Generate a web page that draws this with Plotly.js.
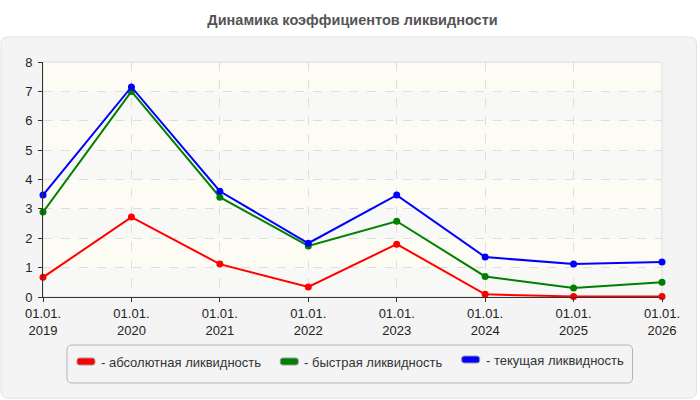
<!DOCTYPE html>
<html>
<head>
<meta charset="utf-8">
<script src="https://cdn.plot.ly/plotly-3.0.1.min.js"></script>
<style>html,body{margin:0;padding:0;background:#fff;}#chart{width:700px;height:400px;}</style>
</head>
<body>
<div id="chart"></div>
<script>
// ---- data ----
var categories = ['01.01.2019','01.01.2020','01.01.2021','01.01.2022','01.01.2023','01.01.2024','01.01.2025','01.01.2026'];
var tickLabels = ['01.01.<br>2019','01.01.<br>2020','01.01.<br>2021','01.01.<br>2022','01.01.<br>2023','01.01.<br>2024','01.01.<br>2025','01.01.<br>2026'];
var absoluteLiquidity = [0.67, 2.72, 1.12, 0.34, 1.80, 0.09, 0.02, 0.02];
var quickLiquidity    = [2.89, 7.00, 3.40, 1.74, 2.58, 0.70, 0.31, 0.50];
var currentLiquidity  = [3.47, 7.15, 3.60, 1.83, 3.47, 1.36, 1.12, 1.19];
var seriesNames = ['- абсолютная ликвидность', '- быстрая ликвидность', '- текущая ликвидность'];
var seriesColors = ['#ff0000', '#008000', '#0000ff'];
var chartTitle = 'Динамика коэффициентов ликвидности';

// ---- layout geometry ----
var W = 700, H = 400;
var M = {l: 43, r: 37.5, t: 62, b: 103};
var pw = W - M.l - M.r, ph = H - M.t - M.b;
function px2x(px){ return (px - M.l) / pw; }
function py2y(py){ return (H - M.b - py) / ph; }
function roundRect(x0, y0, x1, y1, r){
  var X = px2x, Y = py2y;
  return 'M' + X(x0 + r) + ',' + Y(y0) +
    ' L' + X(x1 - r) + ',' + Y(y0) +
    ' Q' + X(x1) + ',' + Y(y0) + ' ' + X(x1) + ',' + Y(y0 + r) +
    ' L' + X(x1) + ',' + Y(y1 - r) +
    ' Q' + X(x1) + ',' + Y(y1) + ' ' + X(x1 - r) + ',' + Y(y1) +
    ' L' + X(x0 + r) + ',' + Y(y1) +
    ' Q' + X(x0) + ',' + Y(y1) + ' ' + X(x0) + ',' + Y(y1 - r) +
    ' L' + X(x0) + ',' + Y(y0 + r) +
    ' Q' + X(x0) + ',' + Y(y0) + ' ' + X(x0 + r) + ',' + Y(y0) + ' Z';
}

var seriesData = [absoluteLiquidity, quickLiquidity, currentLiquidity];
var traces = seriesData.map(function(vals, i){
  return {
    type: 'scatter', mode: 'lines+markers',
    x: categories, y: vals, name: seriesNames[i],
    line: {color: seriesColors[i], width: 2},
    marker: {color: seriesColors[i], size: 7},
    cliponaxis: false, showlegend: false
  };
});

var shapes = [];
// outer gray panel
shapes.push({type: 'path', xref: 'paper', yref: 'paper', layer: 'below',
  path: roundRect(1, 37, 697, 398, 7), fillcolor: '#f4f4f4', line: {color: '#e2e2e2', width: 1}});
// plot bands
for (var k = 0; k < 8; k++) {
  shapes.push({type: 'rect', xref: 'paper', yref: 'y', layer: 'below', x0: 0, x1: 1, y0: k, y1: k + 1,
    fillcolor: (k % 2 === 0) ? '#f8f8f7' : '#fcfcf4', line: {width: 0}});
}
// plot frame (light top/right)
shapes.push({type: 'rect', xref: 'paper', yref: 'paper', layer: 'below', x0: 0, x1: 1, y0: 0, y1: 1,
  fillcolor: 'rgba(0,0,0,0)', line: {color: '#dcdcdc', width: 1}});
// legend box
shapes.push({type: 'path', xref: 'paper', yref: 'paper', layer: 'above',
  path: roundRect(67, 345, 633, 383, 5), fillcolor: 'rgba(0,0,0,0)', line: {color: '#b4b4b4', width: 1}});

var annotations = [];
var swatchX = [77, 280.5, 462];
var swatchY = [361.5, 361.5, 359.5];
var textX = [99, 302, 484];
for (var i = 0; i < 3; i++) {
  shapes.push({type: 'path', xref: 'paper', yref: 'paper', layer: 'above',
    path: roundRect(swatchX[i], swatchY[i] - 3.5, swatchX[i] + 18, swatchY[i] + 3.5, 2.5),
    fillcolor: seriesColors[i], line: {color: '#999', width: 1}});
  annotations.push({xref: 'paper', yref: 'paper', x: px2x(textX[i]), y: py2y(swatchY[i] + 0.5),
    xanchor: 'left', yanchor: 'middle', showarrow: false, text: seriesNames[i],
    font: {family: 'Liberation Sans, Arial, sans-serif', size: 13, color: '#333'}});
}

var layout = {
  width: W, height: H,
  margin: M,
  paper_bgcolor: '#ffffff', plot_bgcolor: 'rgba(0,0,0,0)',
  font: {family: 'Liberation Sans, Arial, sans-serif', size: 13, color: '#222'},
  title: {text: '<b>' + chartTitle + '</b>', x: 0.5, xref: 'paper', xanchor: 'center',
    y: 1 - 20 / H, yref: 'container', yanchor: 'middle',
    font: {family: 'Liberation Sans, Arial, sans-serif', size: 14.5, color: '#555'}},
  xaxis: {
    type: 'category', range: [0, 7], tickvals: categories, ticktext: tickLabels,
    showgrid: true, gridcolor: '#dedede', griddash: 'dash', gridwidth: 1,
    showline: true, linecolor: '#333', linewidth: 1,
    ticks: 'outside', ticklen: 4, tickcolor: '#333',
    zeroline: false, fixedrange: true,
    tickfont: {size: 13, color: '#222'}
  },
  yaxis: {
    range: [0, 8], dtick: 1, tick0: 0,
    showgrid: true, gridcolor: '#dedede', griddash: 'dash', gridwidth: 1,
    showline: true, linecolor: '#333', linewidth: 1,
    ticks: 'outside', ticklen: 4, tickcolor: '#333',
    ticklabelstandoff: 3,
    zeroline: false, fixedrange: true,
    tickfont: {size: 13, color: '#222'}
  },
  shapes: shapes,
  annotations: annotations,
  showlegend: false
};

Plotly.newPlot('chart', traces, layout, {displayModeBar: false, staticPlot: true});
</script>
</body>
</html>
